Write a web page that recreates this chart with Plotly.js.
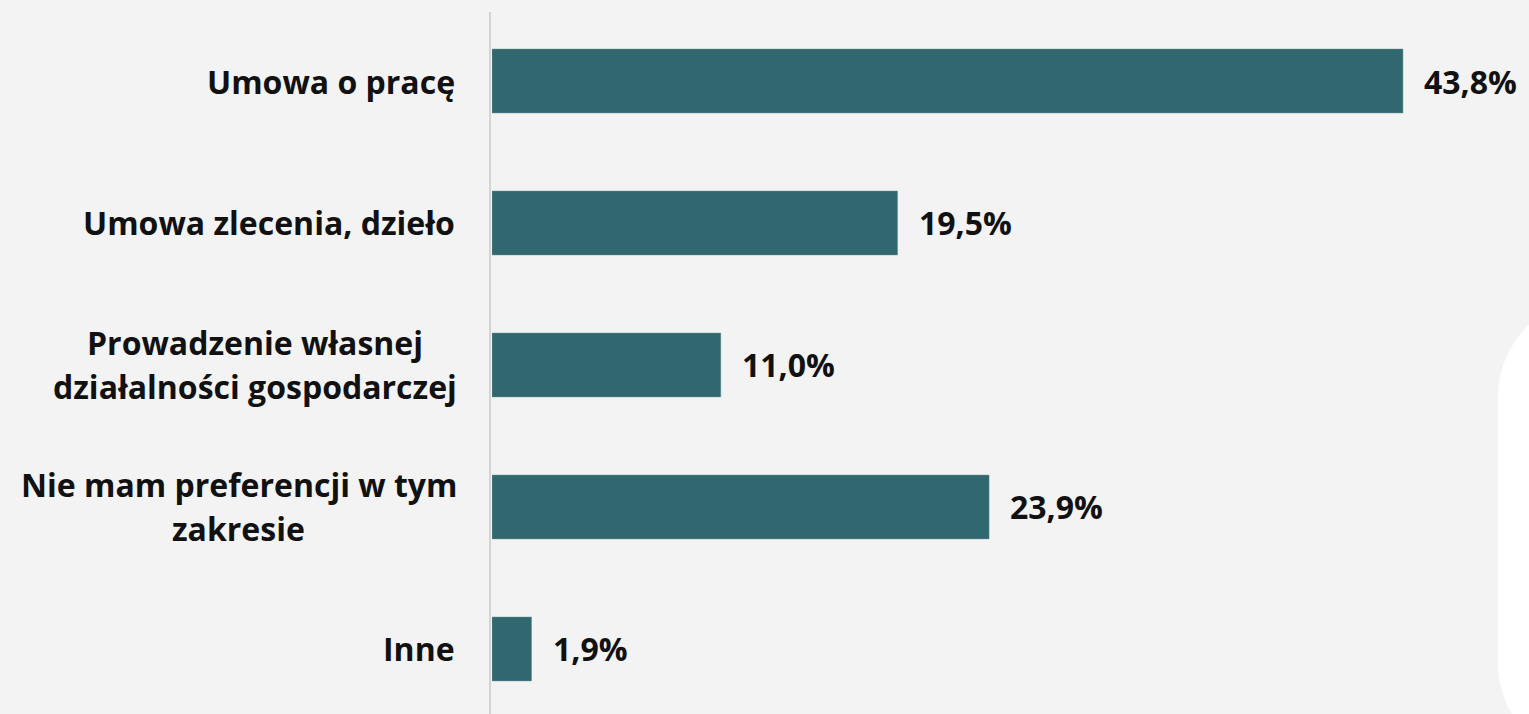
<!DOCTYPE html>
<html><head><meta charset="utf-8">
<script src="https://cdn.plot.ly/plotly-3.0.1.min.js"></script>
<style>html,body{margin:0;padding:0;background:#f3f3f3;}#chart{width:1529px;height:714px;}</style>
</head><body><div id="chart"></div>
<script>
const categories = ["Umowa o pracę", "Umowa zlecenia, dzieło", "Prowadzenie własnej<br>działalności gospodarczej", "Nie mam preferencji w tym<br>zakresie", "Inne"];
const values = [43.8, 19.5, 11.0, 23.9, 1.9];

const W = 1529, H = 714, ML = 492, MT = 10;
const PW = W - ML, PH = H - MT;
const FONT = "'Open Sans', sans-serif";
const FS = 32;
const EDGE = -35;
const fmt = v => v.toFixed(1).replace('.', ',') + '%';

const trace = {
  type: 'bar', orientation: 'h',
  x: values, y: categories.map((c, i) => i),
  marker: {color: '#31676e', line: {color: '#6a9499', width: 0.5}},
  width: 0.45, hoverinfo: 'none'
};

const annotations = [];
categories.forEach((c, i) => {
  const lines = c.split('<br>');
  lines.forEach((l, j) => {
    const off = (j - (lines.length - 1) / 2) * 44;
    annotations.push({xref: 'paper', yref: 'y', x: 0, y: i, text: '<b>' + l + '</b>', showarrow: false,
      xanchor: lines.length > 1 ? 'center' : 'right', xshift: EDGE, yshift: -off,
      font: {family: FONT, size: FS, color: '#111'}});
  });
  annotations.push({xref: 'x', yref: 'y', x: values[i], y: i, text: '<b>' + fmt(values[i]) + '</b>', showarrow: false,
    xanchor: 'left', xshift: 19, font: {family: FONT, size: FS, color: '#111'}});
});

function P(px, py) { return ((px - ML) / PW).toFixed(5) + ',' + (1 - (py - MT) / PH).toFixed(5); }
const path = 'M' + P(1700, 297) + ' L' + P(1598, 297) + ' C' + P(1542.8, 297) + ' ' + P(1498, 341.8) + ' ' + P(1498, 397) +
  ' L' + P(1498, 663) + ' C' + P(1498, 718.2) + ' ' + P(1542.8, 763) + ' ' + P(1598, 763) + ' L' + P(1700, 763) + ' Z';

const layout = {
  width: W, height: H,
  margin: {l: ML, r: 0, t: MT, b: 0},
  paper_bgcolor: '#f3f3f3', plot_bgcolor: '#f3f3f3',
  showlegend: false,
  xaxis: {range: [0, 49.86], showgrid: false, zeroline: false, showticklabels: false, showline: false, fixedrange: true},
  yaxis: {range: [4.458, -0.5], showgrid: false, zeroline: false, showticklabels: false, showline: false, fixedrange: true},
  annotations: annotations,
  shapes: [
    {type: 'line', xref: 'paper', yref: 'paper', x0: -2 / PW, x1: -2 / PW, y0: 0, y1: 1.0 - 2 / PH, line: {color: '#d4d4d4', width: 2}},
    {type: 'path', xref: 'paper', yref: 'paper', path: path, fillcolor: '#ffffff', line: {width: 0}, layer: 'above'}
  ]
};

// Multi-line labels: lines centred on each other, widest line ending at the label edge.
Plotly.newPlot('chart', [trace], layout, {staticPlot: true, displayModeBar: false}).then(gd => {
  const ctx = document.createElement('canvas').getContext('2d');
  ctx.font = 'bold ' + FS + 'px ' + FONT;
  const upd = {};
  let k = 0;
  categories.forEach((c, i) => {
    const lines = c.split('<br>');
    if (lines.length > 1) {
      const wmax = Math.max(...lines.map(l => ctx.measureText(l).width));
      lines.forEach((l, j) => { upd['annotations[' + (k + j) + '].xshift'] = EDGE - wmax / 2; });
    }
    k += lines.length + 1;
  });
  return Plotly.relayout(gd, upd);
});
</script></body></html>
